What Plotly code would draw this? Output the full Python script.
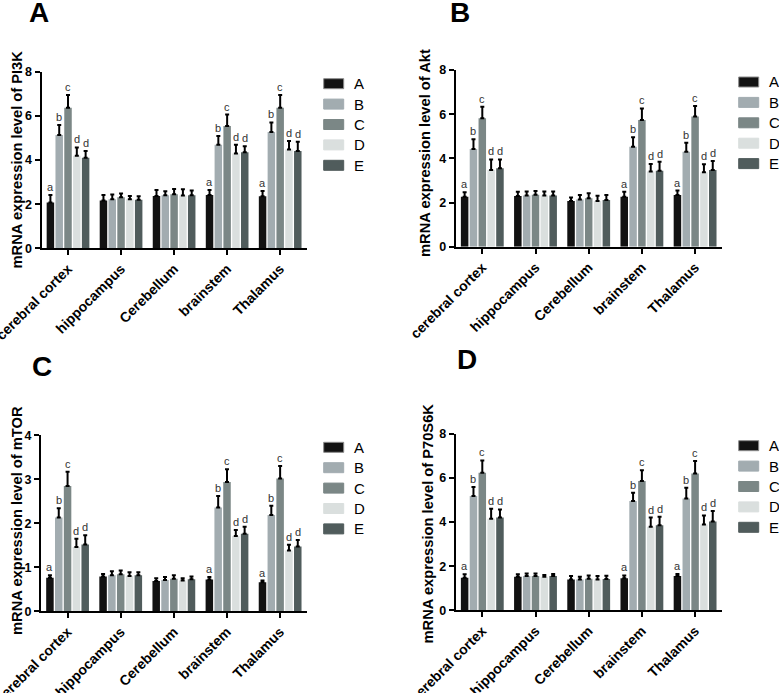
import plotly.graph_objects as go

# ---------------- data ----------------
categories = ["cerebral cortex", "hippocampus", "Cerebellum", "brainstem", "Thalamus"]
groups = ["A", "B", "C", "D", "E"]
sig_letters = ["a", "b", "c", "d", "d"]
sig_categories = [0, 3, 4]  # categories that carry significance letters

# rows = groups A..E, columns = categories
pi3k_means = [
    [2.07, 2.16, 2.37, 2.41, 2.36],
    [5.13, 2.22, 2.40, 4.69, 5.27],
    [6.37, 2.31, 2.45, 5.54, 6.37],
    [4.19, 2.22, 2.39, 4.30, 4.48],
    [4.10, 2.20, 2.40, 4.35, 4.41],
]
pi3k_errs = [
    [0.34, 0.25, 0.27, 0.23, 0.24],
    [0.45, 0.22, 0.18, 0.40, 0.43],
    [0.57, 0.17, 0.24, 0.52, 0.57],
    [0.38, 0.15, 0.28, 0.39, 0.38],
    [0.31, 0.16, 0.22, 0.27, 0.42],
]

akt_means = [
    [2.26, 2.29, 2.07, 2.26, 2.34],
    [4.42, 2.32, 2.14, 4.53, 4.30],
    [5.81, 2.35, 2.19, 5.74, 5.89],
    [3.47, 2.32, 2.07, 3.40, 3.37],
    [3.55, 2.32, 2.11, 3.44, 3.47],
]
akt_errs = [
    [0.20, 0.20, 0.16, 0.23, 0.20],
    [0.44, 0.18, 0.20, 0.42, 0.41],
    [0.53, 0.17, 0.23, 0.52, 0.48],
    [0.48, 0.18, 0.24, 0.34, 0.36],
    [0.40, 0.18, 0.23, 0.41, 0.41],
]

mtor_means = [
    [0.76, 0.79, 0.69, 0.72, 0.66],
    [2.13, 0.82, 0.71, 2.36, 2.19],
    [2.85, 0.84, 0.74, 2.94, 3.02],
    [1.46, 0.80, 0.70, 1.71, 1.38],
    [1.52, 0.82, 0.73, 1.76, 1.47],
]
mtor_errs = [
    [0.06, 0.06, 0.06, 0.06, 0.04],
    [0.21, 0.09, 0.07, 0.26, 0.21],
    [0.32, 0.09, 0.08, 0.29, 0.28],
    [0.19, 0.09, 0.05, 0.14, 0.13],
    [0.21, 0.07, 0.06, 0.16, 0.15],
]

p70_means = [
    [1.48, 1.52, 1.40, 1.45, 1.55],
    [5.18, 1.55, 1.40, 4.95, 5.07],
    [6.23, 1.55, 1.43, 5.86, 6.20],
    [4.15, 1.52, 1.40, 3.79, 3.89],
    [4.20, 1.55, 1.42, 3.85, 4.02],
]
p70_errs = [
    [0.15, 0.11, 0.15, 0.13, 0.10],
    [0.40, 0.12, 0.12, 0.38, 0.48],
    [0.56, 0.12, 0.15, 0.48, 0.56],
    [0.45, 0.08, 0.15, 0.41, 0.41],
    [0.37, 0.10, 0.15, 0.39, 0.48],
]

gene_titles = ["mRNA expression level of PI3K", "mRNA expression level of Akt",
               "mRNA expression level of mTOR", "mRNA expression level of P70S6K"]
panel_letters = ["A", "B", "C", "D"]
y_max = [8, 8, 4, 8]
y_dtick = [2, 2, 1, 2]

# ---------------- style / layout ----------------
W, H = 779, 693
colors = ["#121212", "#a2acb0", "#7b8786", "#dadfde", "#505c5c"]
FONT = "Liberation Sans, Arial, sans-serif"
BARGAP = 0.17

# pixel geometry of each panel: (x_left, x_right, y_top, y_bottom)
geom = [
    (41.5, 306.7, 71.7, 248.3),
    (455.7, 721.7, 70.0, 246.7),
    (41.0, 306.7, 435.3, 611.3),
    (455.7, 721.7, 433.7, 610.3),
]
letter_pos = [(27, -5), (448, -5), (30, 349), (455, 342)]
ytitle_pos = [(16.5, 160), (425, 153), (17, 521), (427.5, 524)]

def px(x):
    return x / W

def py(y):
    return 1 - y / H

fig = go.Figure()
all_means = [pi3k_means, akt_means, mtor_means, p70_means]
all_errs = [pi3k_errs, akt_errs, mtor_errs, p70_errs]

annotations = []
shapes = []
for p in range(4):
    sfx = "" if p == 0 else str(p + 1)
    xa, ya = "x" + sfx, "y" + sfx
    means, errs = all_means[p], all_errs[p]
    for g in range(5):
        fig.add_trace(go.Bar(
            x=categories, y=means[g], name=groups[g],
            xaxis=xa, yaxis=ya,
            marker=dict(color=colors[g], line=dict(width=0)),
            error_y=dict(type="data", symmetric=False, array=errs[g],
                         arrayminus=[0] * 5, thickness=2, width=2, color="black"),
            showlegend=False,
        ))
    # significance letters
    slot = (1 - BARGAP) / 5
    for c in sig_categories:
        for g in range(5):
            annotations.append(dict(
                x=c + (g - 2) * slot, y=means[g][c] + errs[g][c],
                xref=xa, yref=ya, text=sig_letters[g], showarrow=False,
                yanchor="bottom", yshift=0,
                font=dict(family=FONT, size=11, color="#333333"),
            ))
    x0, x1, y0, y1 = geom[p]
    fig.layout["xaxis" + sfx] = dict(
        domain=[px(x0), px(x1)], anchor=ya, type="category",
        showline=True, linewidth=2, linecolor="black", ticks="outside",
        ticklen=5, tickwidth=2, tickcolor="black", tickangle=-45,
        tickfont=dict(family=FONT, size=14, color="black", weight="bold"),
        showgrid=False, zeroline=False, range=[-0.5, 4.5],
    )
    fig.layout["yaxis" + sfx] = dict(
        domain=[py(y1), py(y0)], anchor=xa,
        range=[0, y_max[p]], dtick=y_dtick[p], tick0=0,
        showline=True, linewidth=2, linecolor="black", ticks="outside",
        ticklen=5, tickwidth=2, tickcolor="black",
        tickfont=dict(family=FONT, size=12.5, color="black", weight="bold"),
        showgrid=False, zeroline=False,
    )
    # y-axis title
    tx, ty = ytitle_pos[p]
    annotations.append(dict(
        x=px(tx), y=py(ty), xref="paper", yref="paper", xanchor="center",
        yanchor="middle", text=gene_titles[p], textangle=-90, showarrow=False,
        font=dict(family=FONT, size=14.7, color="black", weight="bold"),
    ))
    # panel letter
    lx, ly = letter_pos[p]
    annotations.append(dict(
        x=px(lx), y=py(ly), xref="paper", yref="paper", xanchor="left", yanchor="top",
        text=panel_letters[p], showarrow=False,
        font=dict(family=FONT, size=28, color="black", weight="bold"),
    ))
    # legend (drawn as swatches + text)
    sx = x1 + 17
    for g in range(5):
        cy = y0 + 12 + g * 20.4
        shapes.append(dict(
            type="rect", xref="paper", yref="paper",
            x0=px(sx), x1=px(sx + 20), y0=py(cy + 5), y1=py(cy - 5),
            fillcolor=colors[g],
            line=dict(color="#8a8a8a" if g == 0 else colors[g], width=1),
        ))
        annotations.append(dict(
            x=px(sx + 28), y=py(cy), xref="paper", yref="paper",
            xanchor="left", yanchor="middle", text=groups[g], showarrow=False,
            font=dict(family=FONT, size=15, color="black"),
        ))

fig.update_layout(
    width=W, height=H,
    margin=dict(l=0, r=0, t=0, b=0, autoexpand=False),
    paper_bgcolor="white", plot_bgcolor="white",
    barmode="group", bargap=BARGAP, bargroupgap=0.15,
    showlegend=False,
    annotations=annotations, shapes=shapes,
    font=dict(family=FONT, color="black"),
)

fig.write_html(
    "out.html",
    config={"displayModeBar": False},
    post_script="document.body.style.margin='0px';document.body.style.overflow='hidden';",
)
